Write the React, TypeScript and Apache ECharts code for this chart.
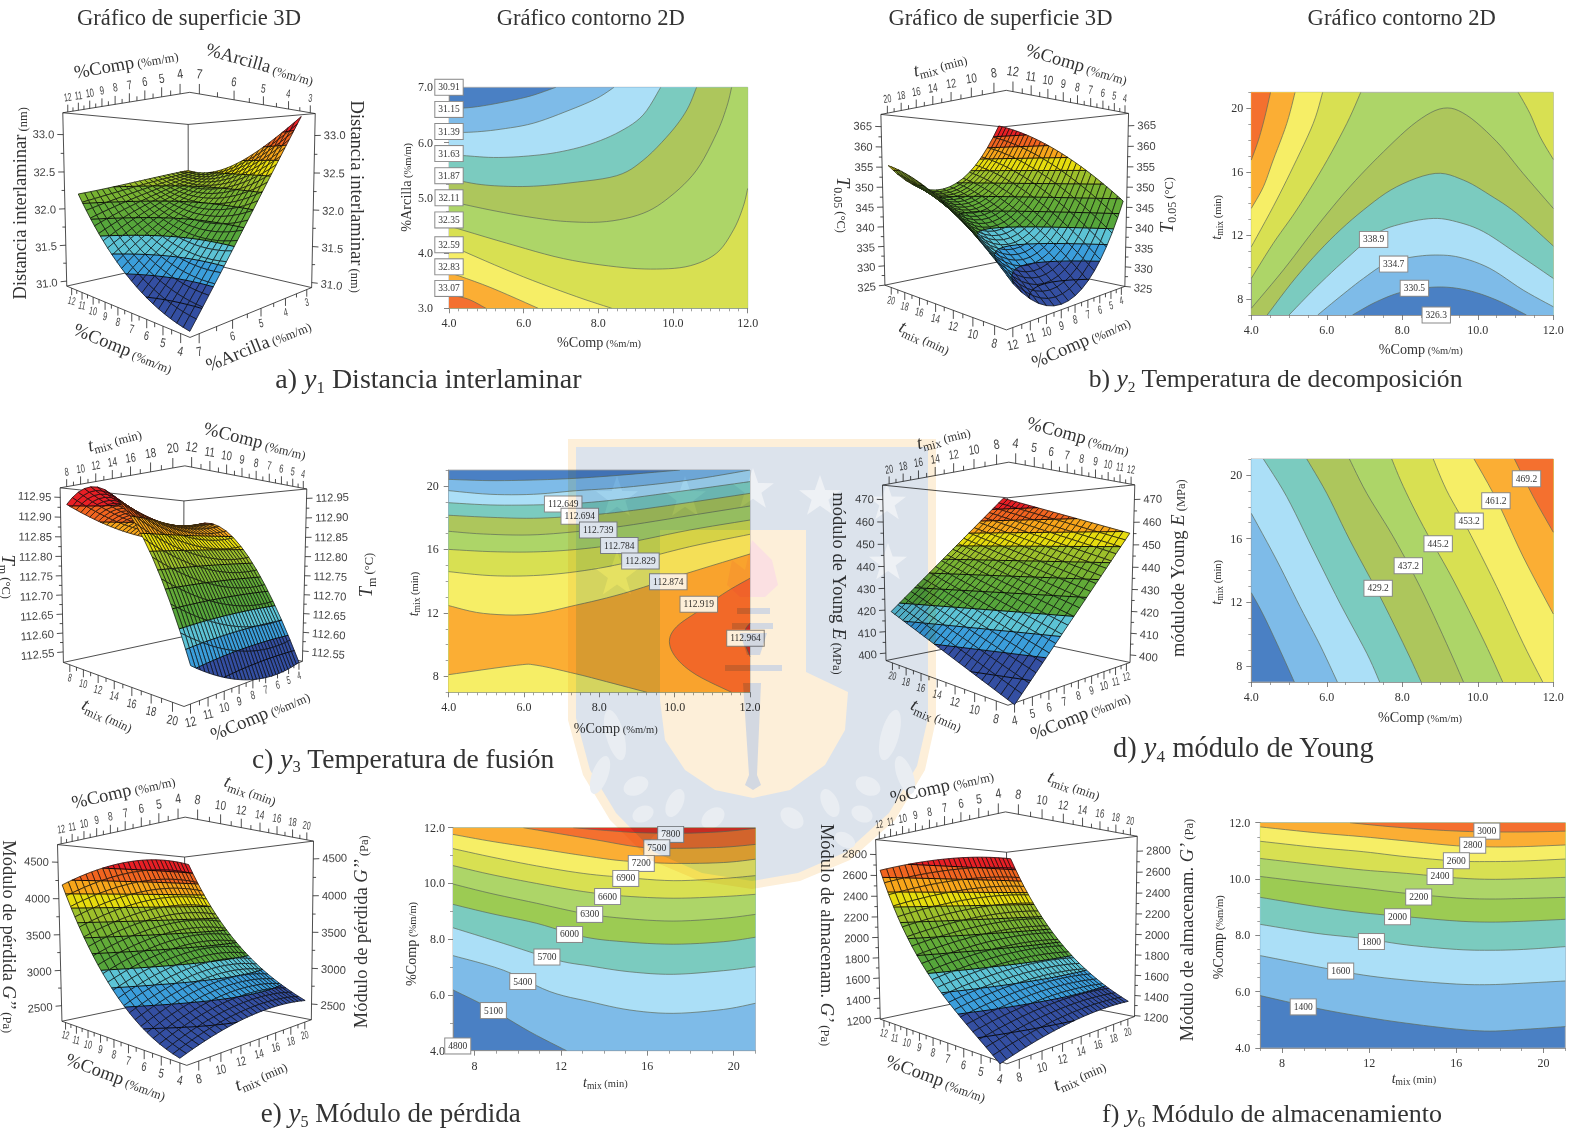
import React, { useEffect, useRef } from "react";
import * as echarts from "echarts";

const SERIF = '"Liberation Serif"';
const SANS = '"Liberation Sans"';

// ---------- contour plots: level curves in data units ----------
const paletteAD = ["#4a80c4", "#7ebbe8", "#abdff7", "#7bcbbf", "#adc65c", "#add568", "#d8e052", "#f6ee66", "#fbae34", "#f4702f", "#e63125"];
const paletteEF = ["#4a80c4", "#7ebbe8", "#abdff7", "#7bcbbf", "#9ccb53", "#add568", "#d8e052", "#f6ee66", "#fbae34", "#f4702f", "#e63125"];

const contourACurves = [
  [[4, 6.61], [4.65, 6.64], [5.37, 6.72], [6.17, 6.84], [6.86, 7]],
  [[4, 6.18], [4.65, 6.19], [5.37, 6.24], [6.26, 6.35], [7.24, 6.59], [7.96, 6.8], [8.42, 7]],
  [[4, 5.78], [4.47, 5.76], [5.19, 5.73], [5.99, 5.75], [6.88, 5.82], [7.78, 5.97], [8.58, 6.2], [9.2, 6.5], [9.67, 7]],
  [[4, 5.35], [4.74, 5.25], [5.46, 5.21], [6.26, 5.21], [7.24, 5.27], [8.49, 5.4], [9.2, 5.68], [9.92, 6.17], [10.37, 6.59], [10.63, 7]],
  [[4, 4.94], [5.1, 4.78], [6.17, 4.65], [7.15, 4.57], [8.22, 4.57], [9.2, 4.72], [9.92, 5.02], [10.63, 5.5], [11.17, 6.17], [11.44, 6.65], [11.57, 7]],
  [[4, 4.49], [5.54, 4.18], [7.06, 3.9], [8.49, 3.75], [9.56, 3.71], [10.46, 3.77], [11.17, 4], [11.62, 4.42], [11.88, 4.84], [12, 5.17]],
  [[4, 4.16], [4.56, 3.98], [5.99, 3.57], [7.42, 3.21], [8.36, 3]],
  [[4, 3.65], [5.1, 3.38], [6.39, 3]],
  [[4, 3.24], [4.5, 3.17], [4.99, 3]],
];
const contourABands = [1, 2, 3, 4, 5, 6, 7, 8, 9];
const contourALabels = [[4, 7, "30.91"], [4, 6.6, "31.15"], [4, 6.2, "31.39"], [4, 5.8, "31.63"], [4, 5.4, "31.87"], [4, 5, "32.11"], [4, 4.6, "32.35"], [4, 4.15, "32.59"], [4, 3.75, "32.83"], [4, 3.36, "33.07"]];

const contourBCurves = [
  [[6.9, 21], [6.53, 19.04], [5.91, 16.32], [5.2, 13.6], [4.58, 11.5], [4, 9.3]],
  [[5.89, 21], [5.64, 19.04], [5.11, 16.32], [4.58, 13.81], [4, 11.29]],
  [[5.16, 21], [4.94, 19.04], [4.58, 16.74], [4.32, 15.06], [4, 13.7]],
  [[4.51, 21], [4.36, 19.46], [4.19, 18], [4, 16.74]],
  [[12, 16.78], [11.65, 18.2], [11.38, 19.67], [11.07, 21]],
  [[4, 7.42], [4.85, 9.83], [5.73, 12.55], [6.61, 15.06], [7.5, 17.26], [8.38, 19.15], [9.09, 20], [9.7, 19.57], [10.5, 17.9], [11.2, 15.9], [12, 13.7]],
  [[4.42, 7], [5.2, 9.41], [6.08, 11.71], [6.97, 13.6], [7.85, 15.06], [8.87, 15.9], [9.62, 15.48], [10.32, 14.54], [11.03, 13.39], [12, 11.34]],
  [[5, 7], [5.73, 8.78], [6.53, 10.56], [7.32, 12.13], [8.03, 12.76], [8.82, 13.07], [9.44, 12.86], [10.15, 12.24], [11.03, 10.87], [12, 9.3]],
  [[5.76, 7], [6.35, 8.15], [6.97, 9.3], [7.58, 10.25], [8.2, 10.62], [8.87, 10.77], [9.53, 10.62], [10.32, 9.93], [11.2, 8.57], [12, 7.52]],
  [[6.68, 7], [7.32, 7.84], [8.03, 8.47], [8.91, 8.76], [9.7, 8.57], [10.5, 7.94], [11.29, 7]],
];
const contourBBands = [6, 7, 8, 9, 6, 4, 3, 2, 1, 0];
const contourBLabels = [[7.24, 11.75, "338.9"], [7.77, 10.2, "334.7"], [8.32, 8.68, "330.5"], [8.9, 7, "326.3"]];

const contourCCurves = [
  [[4, 20.41], [5.1, 20.33], [6.25, 20.37], [7.4, 20.48], [8.64, 20.69], [10.14, 21]],
  [[4, 19.7], [5.1, 19.47], [6.25, 19.47], [7.4, 19.7], [8.64, 19.9], [10.4, 20.37], [12, 21]],
  [[4, 18.94], [5.1, 18.8], [6.25, 18.8], [7.4, 18.9], [8.64, 19.18], [10.4, 19.74], [12, 20.27]],
  [[4, 18.15], [5.1, 18.02], [6.25, 17.96], [7.4, 18.1], [8.64, 18.38], [10.4, 18.96], [12, 19.53]],
  [[4, 17.14], [4.92, 16.97], [6.16, 16.91], [7.4, 17.12], [8.64, 17.47], [10.4, 18.13], [12, 18.73]],
  [[4, 16], [5.1, 15.86], [6.25, 15.84], [7.4, 16], [8.64, 16.38], [10.4, 17.22], [12, 17.85]],
  [[4, 14.6], [5.1, 14.35], [6.25, 14.35], [7.4, 14.6], [8.64, 15.12], [10.4, 16.17], [12, 16.95]],
  [[4, 12.46], [4.92, 11.97], [6.16, 11.91], [7.4, 12.5], [8.64, 13.23], [10.32, 14.49], [12, 15.71]],
  [[4, 8.11], [5.8, 8.7], [6.34, 8.7], [7.4, 8.15], [8.19, 7.67], [9.26, 7]],
  [[11.51, 7], [10.58, 8.09], [10.05, 9.14], [9.86, 10.19], [10.05, 11.13], [10.67, 12.18], [11.38, 13.34], [12, 14.18]],
  [[12, 9.25], [11.87, 10.09], [11.87, 10.9], [12, 11.35]],
];
const contourCBands = [1, 2, 3, 4, 5, 6, 7, 8, 7, 9, 10];
const contourCLabels = [[7.04, 18.86, "112.649"], [7.48, 18.08, "112.694"], [7.97, 17.22, "112.739"], [8.53, 16.24, "112.784"], [9.09, 15.27, "112.829"], [9.83, 13.97, "112.874"], [10.64, 12.54, "112.919"], [11.88, 10.4, "112.964"]];

const contourDCurves = [
  [[5.14, 7], [4.76, 9], [4.32, 11.21], [4, 12.61]],
  [[6.28, 7], [5.82, 9.32], [5.29, 11.73], [4.67, 14.66], [4, 17.59]],
  [[7.4, 7], [7.06, 8.8], [6.35, 11.94], [5.64, 15.29], [4.94, 18.63], [4.32, 21]],
  [[8.5, 7], [8.11, 9], [7.41, 12.36], [6.61, 15.91], [6, 18.84], [5.47, 21]],
  [[9.62, 7], [9.17, 9.43], [8.47, 12.98], [7.76, 16.12], [7.06, 18.84], [6.6, 21]],
  [[10.66, 7], [10.15, 9.64], [9.35, 13.4], [8.56, 16.75], [8.03, 19.26], [7.72, 21]],
  [[11.72, 7], [11.2, 9.43], [10.5, 12.98], [9.7, 16.75], [9.17, 19.05], [8.82, 21]],
  [[12, 11.27], [11.2, 14.87], [10.5, 18.43], [9.9, 21]],
  [[12, 16.4], [11.47, 18.63], [10.97, 21]],
];
const contourDBands = [1, 2, 3, 4, 5, 6, 7, 8, 9];
const contourDLabels = [[7.36, 12.88, "429.2"], [8.16, 14.3, "437.2"], [8.95, 15.68, "445.2"], [9.77, 17.1, "453.2"], [10.48, 18.38, "461.2"], [11.29, 19.76, "469.2"]];

const contourECurves = [
  [[12.26, 4], [10.56, 4.68], [8.71, 5.52], [7, 6.18]],
  [[21, 5.7], [19.52, 5.48], [17.2, 5.34], [15.19, 5.46], [13.34, 5.76], [11.49, 6.12], [9.33, 6.89], [7, 7.41]],
  [[21, 7.01], [19.52, 6.87], [17.2, 6.74], [15.19, 6.83], [13.34, 7.04], [11.8, 7.25], [9.33, 7.85], [7, 8.41]],
  [[21, 8.07], [19.52, 7.91], [17.2, 7.82], [14.89, 7.91], [13.03, 8.09], [10.87, 8.57], [8.71, 8.93], [7, 9.25]],
  [[21, 8.89], [19.52, 8.75], [17.2, 8.65], [14.89, 8.75], [13.03, 8.93], [10.87, 9.29], [8.71, 9.65], [7, 9.98]],
  [[21, 9.61], [19.52, 9.53], [17.2, 9.47], [14.89, 9.55], [13.03, 9.71], [10.87, 10], [8.71, 10.33], [7, 10.64]],
  [[21, 10.28], [19.52, 10.18], [17.2, 10.1], [14.89, 10.22], [13.03, 10.36], [10.87, 10.63], [8.71, 10.96], [7, 11.25]],
  [[21, 10.87], [19.52, 10.75], [17.2, 10.72], [14.89, 10.81], [13.03, 11], [10.87, 11.26], [8.71, 11.52], [7, 11.76]],
  [[21, 11.4], [19.52, 11.3], [17.35, 11.26], [15.66, 11.3], [13.65, 11.56], [11.8, 11.8], [10.26, 12]],
  [[21, 11.98], [19.52, 11.86], [17.66, 11.8], [15.66, 11.82], [14.11, 11.9], [12.57, 12]],
];
const contourEBands = [1, 2, 3, 4, 5, 6, 7, 8, 9, 10];
const contourELabels = [[17.08, 11.76, "7800"], [16.44, 11.28, "7500"], [15.72, 10.72, "7200"], [15, 10.18, "6900"], [14.16, 9.53, "6600"], [13.33, 8.89, "6300"], [12.4, 8.17, "6000"], [11.35, 7.36, "5700"], [10.23, 6.48, "5400"], [8.87, 5.44, "5100"], [7.22, 4.17, "4800"]];

const contourFTimes = [21, 19.07, 17.54, 16.01, 13.72, 11.73, 9.59, 7];
const contourFCurves = [
  [4.76, 4.66, 4.6, 4.67, 4.88, 5.11, 5.41, 5.86],
  [6.38, 6.3, 6.25, 6.27, 6.41, 6.59, 6.89, 7.28],
  [7.6, 7.5, 7.47, 7.5, 7.66, 7.89, 8.07, 8.39],
  [8.57, 8.5, 8.47, 8.51, 8.66, 8.8, 9.02, 9.35],
  [9.35, 9.31, 9.29, 9.33, 9.49, 9.67, 9.85, 10.09],
  [10.06, 10.01, 9.99, 10.04, 10.2, 10.32, 10.5, 10.73],
  [10.71, 10.64, 10.62, 10.64, 10.79, 10.97, 11.12, 11.34],
  [11.21, 11.15, 11.14, 11.18, 11.35, 11.5, 11.64, 11.85],
].map((ys) => ys.map((y, i) => [contourFTimes[i], y])).concat([
  [[21, 11.7], [19.07, 11.67], [16.93, 11.68], [15.09, 11.74], [12.95, 11.86], [11.12, 12]],
]);
const contourFBands = [1, 2, 3, 4, 5, 6, 7, 8, 9];
const contourFLabels = [[17.4, 11.7, "3000"], [16.75, 11.2, "2800"], [16, 10.65, "2600"], [15.25, 10.09, "2400"], [14.27, 9.36, "2200"], [13.3, 8.66, "2000"], [12.1, 7.78, "1800"], [10.69, 6.73, "1600"], [8.97, 5.46, "1400"]];

const compTicks2D = [4, 6, 8, 10, 12];
const arcTicks2D = [3, 4, 5, 6, 7];
const timeTicks2D = [8, 12, 16, 20];

// ---------- response surfaces: z read per grid node ----------
const surfAComp = [4, 6, 8, 10, 12];
const surfAArc = [7, 6, 5, 4, 3];
const surfAValues = [
  [30.91, 31.49, 32.07, 32.67, 33.25],
  [31.06, 31.52, 31.96, 32.4, 32.9],
  [31.27, 31.64, 31.97, 32.29, 32.63],
  [31.7, 31.92, 32.13, 32.28, 32.48],
  [32.2, 32.26, 32.36, 32.42, 32.5],
];
const surfBTime = [8, 11, 14, 17, 20];
const surfBComp = [12, 10, 8, 6, 4];
const surfBValues = [
  [335.8, 329.1, 329.5, 336, 349],
  [342.4, 336.5, 335.6, 342.1, 355],
  [347.8, 341.2, 340.9, 348.3, 360.3],
  [351.8, 345.3, 345.6, 351.9, 364.4],
  [354.9, 348.3, 349.5, 354.5, 367.5],
];
const surfCTime = [20, 17, 14, 11, 8];
const surfCComp = [12, 10, 8, 6, 4];
const surfCValues = [
  [112.665, 112.622, 112.593, 112.577, 112.585],
  [112.826, 112.787, 112.755, 112.745, 112.75],
  [112.926, 112.88, 112.848, 112.836, 112.842],
  [112.968, 112.92, 112.89, 112.895, 112.9],
  [112.95, 112.908, 112.878, 112.864, 112.87],
];
const surfDTime = [8, 11, 14, 17, 20];
const surfDComp = [4, 6, 8, 10, 12];
const surfDValues = [
  [398, 412.8, 427, 442, 457.5],
  [402.5, 417, 431.3, 446.3, 460.6],
  [407, 421.9, 435.5, 451, 465],
  [412.5, 426.3, 441, 455.6, 470],
  [417.7, 431.6, 446.3, 461.6, 474],
];
const surfEComp = [4, 6, 8, 10, 12];
const surfETime = [8, 11, 14, 17, 20];
const surfEValues = [
  [2368, 2495, 2565, 2550, 2560],
  [2582, 2742, 2832, 2877, 2847],
  [2959, 3109, 3236, 3270, 3221],
  [3509, 3670, 3767, 3857, 3819],
  [4283, 4418, 4605, 4650, 4608],
];
const surfFComp = [4, 6, 8, 10, 12];
const surfFTime = [8, 11, 14, 17, 20];
const surfFValues = [
  [1200, 1266, 1307, 1342, 1333],
  [1440, 1508, 1537, 1556, 1545],
  [1714, 1765, 1819, 1847, 1833],
  [2112, 2165, 2232, 2271, 2262],
  [2683, 2740, 2810, 2860, 2850],
];

const surfaceBands = ["#344fa2", "#344fa2", "#3b9edb", "#5cc3d5", "#56a63b", "#62ab38", "#78b332", "#9dc02b", "#e6dc0e", "#f7a51a", "#f1641f", "#e81f25"];

const compTicks3D = [4, 5, 6, 7, 8, 9, 10, 11, 12];
const compMinor3D = [4.5, 5.5, 6.5, 7.5, 8.5, 9.5, 10.5, 11.5];
const timeTicks3D = [8, 10, 12, 14, 16, 18, 20];
const timeMinor3D = [9, 11, 13, 15, 17, 19];
const arcTicks3D = [3, 4, 5, 6, 7];
const arcMinor3D = [3.5, 4.5, 5.5, 6.5];

const zTicksA = [31, 31.5, 32, 32.5, 33];
const zTicksB = [325, 330, 335, 340, 345, 350, 355, 360, 365];
const zTicksC = [112.55, 112.6, 112.65, 112.7, 112.75, 112.8, 112.85, 112.9, 112.95];
const zTicksD = [400, 410, 420, 430, 440, 450, 460, 470];
const zTicksE = [2500, 3000, 3500, 4000, 4500];
const zTicksF = [1200, 1400, 1600, 1800, 2000, 2200, 2400, 2600, 2800];

const COMP = "{a|%Comp}{b| (%m/m)}";
const ARC = "{a|%Arcilla}{b| (%m/m)}";
const TMIX = "{i|t}{s|mix}{b| (min)}";

const columnTitles = [
  ["Gráfico de superficie 3D", 189, 17],
  ["Gráfico contorno 2D", 590.8, 17],
  ["Gráfico de superficie 3D", 1000.5, 17],
  ["Gráfico contorno 2D", 1401.7, 17],
];
const captions = [
  ["{a|a) }{i|y}{s|1}{a| Distancia interlaminar}", 428.4, 378.7, 28],
  ["{a|b) }{i|y}{s|2}{a| Temperatura de decomposición}", 1275.7, 378.7, 25.6],
  ["{a|c) }{i|y}{s|3}{a| Temperatura de fusión}", 403.3, 758.4, 27.5],
  ["{a|d) }{i|y}{s|4}{a| módulo de Young}", 1243.6, 747, 28.4],
  ["{a|e) }{i|y}{s|5}{a| Módulo de pérdida}", 390.8, 1113, 27],
  ["{a|f) }{i|y}{s|6}{a| Módulo de almacenamiento}", 1272, 1113, 26],
];

// ---------- layouts ----------
const contourPanels: any[] = [
  { curves: contourACurves, bands: contourABands, labels: contourALabels, base: 0, palette: paletteAD, left: 449, right: 747.7, top: 87.3, bottom: 308.3, xr: [4, 12], yr: [3, 7], xt: compTicks2D, yt: arcTicks2D, xm: 0.25, ym: 0.25, xd: 1, yd: 1, ymargin: 16, xTitle: [COMP, 599, 342.3], yTitle: [ARC, 406, 187.3] },
  { curves: contourBCurves, bands: contourBBands, labels: contourBLabels, base: 5, palette: paletteAD, left: 1251.3, right: 1553.3, top: 92.3, bottom: 315, xr: [4, 12], yr: [7, 21], xt: compTicks2D, yt: timeTicks2D, xm: 0.5, ym: 1, xd: 1, yd: 0, ymargin: 8, xTitle: [COMP, 1420.7, 349.3], yTitle: [TMIX, 1215.7, 217.3] },
  { curves: contourCCurves, bands: contourCBands, labels: contourCLabels, base: 0, palette: paletteAD, left: 448.7, right: 750, top: 470, bottom: 692.3, xr: [4, 12], yr: [7, 21], xt: compTicks2D, yt: timeTicks2D, xm: 0.25, ym: 1, xd: 1, yd: 0, ymargin: 10, xTitle: [COMP, 615.7, 727.7], yTitle: [TMIX, 412.7, 594] },
  { curves: contourDCurves, bands: contourDBands, labels: contourDLabels, base: 0, palette: paletteAD, left: 1251.3, right: 1553.3, top: 459, bottom: 682, xr: [4, 12], yr: [7, 21], xt: compTicks2D, yt: timeTicks2D, xm: 0.5, ym: 1, xd: 1, yd: 0, ymargin: 9, xTitle: [COMP, 1420, 716.7], yTitle: [TMIX, 1215.7, 582.3] },
  { curves: contourECurves, bands: contourEBands, labels: contourELabels, base: 0, palette: paletteEF, left: 453, right: 755.3, top: 827.7, bottom: 1050.7, xr: [7, 21], yr: [4, 12], xt: timeTicks2D, yt: compTicks2D, xm: 1, ym: 1, xd: 0, yd: 1, ymargin: 8, xTitle: [TMIX, 605.3, 1081.7], yTitle: [COMP, 410.7, 944] },
  { curves: contourFCurves, bands: contourFBands, labels: contourFLabels, base: 0, palette: paletteEF, left: 1260.3, right: 1565.3, top: 822.7, bottom: 1048, xr: [7, 21], yr: [4, 12], xt: timeTicks2D, yt: compTicks2D, xm: 1, ym: 0.5, xd: 0, yd: 1, ymargin: 10, xTitle: [TMIX, 1414, 1077.7], yTitle: [COMP, 1217.7, 937.3] },
];

const Z_A_TITLE = "{a|Distancia interlaminar}{b| (nm)}";
const surfacePanels: any[] = [
  {
    corners: { n0: [190, 335], l0: [66.7, 288.3], r0: [311.7, 290], b0: [188.3, 256.7], n1: [190, 91.7], l1: [62.7, 112.7], r1: [315, 113.3], b1: [188.3, 125] },
    zr: [30.93, 33.29], uv: surfAComp, vv: surfAArc, values: surfAValues, mesh: [22, 22], deg: [3, 3], inset: 0.055, zt: zTicksA, zd: 1,
    ut: compTicks3D, um: compMinor3D, vt: arcTicks3D, vm: arcMinor3D,
    titles: [[COMP, 126, 63.3, 10], [ARC, 260, 64, -16], [COMP, 123.3, 348.3, -22], [ARC, 258.3, 345, 22], [Z_A_TITLE, 20, 203.3, 90], [Z_A_TITLE, 357.3, 196.7, -90]],
  },
  {
    corners: { n0: [1005.7, 330], l0: [885, 285.7], r0: [1125, 285.7], b0: [1003, 261], n1: [1005.7, 90], l1: [881.7, 114], r1: [1129.3, 114.3], b1: [1001.7, 126.7] },
    zr: [325, 368], uv: surfBTime, vv: surfBComp, values: surfBValues, mesh: [28, 16], deg: [2, 3], inset: 0.04, zt: zTicksB, zd: 0,
    ut: timeTicks3D, um: timeMinor3D, vt: compTicks3D, vm: compMinor3D,
    titles: [[TMIX, 940, 64.3, 14], [COMP, 1076.7, 64, -16], [TMIX, 925, 337.3, -26], [COMP, 1080.7, 341.7, 24], ["{i|T}{s|0.05}{b| (°C)}", 843.3, 205, -90], ["{i|T}{s|0.05}{b| (°C)}", 1166.7, 205, 90]],
  },
  {
    corners: { n0: [185, 706.7], l0: [62.7, 661.7], r0: [301.7, 661.7], b0: [184, 636.7], n1: [185, 466], l1: [60, 488.3], r1: [306.7, 488.3], b1: [184, 501] },
    zr: [112.522, 112.974], uv: surfCTime, vv: surfCComp, values: surfCValues, mesh: [16, 30], deg: [3, 2], inset: 0.04, zt: zTicksC, zd: 2,
    ut: timeTicks3D, um: timeMinor3D, vt: compTicks3D, vm: compMinor3D,
    titles: [[TMIX, 114.3, 439, 14.7], [COMP, 255, 440.7, -14], [TMIX, 107.7, 715, -26], [COMP, 260, 715, 23], ["{i|T}{s|m}{b| (°C)}", 8, 576.7, -90], ["{i|T}{s|m}{b| (°C)}", 366, 575, 90]],
  },
  {
    corners: { n0: [1008.3, 706], l0: [886, 660], r0: [1130, 661.7], b0: [1006.7, 637], n1: [1008.3, 462.3], l1: [882.7, 485], r1: [1135, 485], b1: [1007.3, 497.7] },
    zr: [396.5, 476.4], uv: surfDTime, vv: surfDComp, values: surfDValues, mesh: [24, 20], deg: [1, 1], inset: 0.04, zt: zTicksD, zd: 0,
    ut: timeTicks3D, um: timeMinor3D, vt: compTicks3D, vm: compMinor3D,
    titles: [[TMIX, 943.3, 436.7, 14], [COMP, 1078.3, 436, -15], [TMIX, 936.7, 715, -25], [COMP, 1080, 715, 22], ["{a|módulo de Young }{i|E}{b| (MPa)}", 839.3, 583.3, -90], ["{a|módulode Young }{i|E}{b| (MPa)}", 1178.3, 568.3, 90]],
  },
  {
    corners: { n0: [186.7, 1065], l0: [62.3, 1021.7], r0: [311.7, 1020], b0: [185, 995], n1: [185, 817.3], l1: [57.3, 844.3], r1: [313.3, 841], b1: [185, 857.3] },
    zr: [2278, 4740], uv: surfEComp, vv: surfETime, values: surfEValues, mesh: [22, 26], deg: [3, 2], inset: 0.04, zt: zTicksE, zd: 0,
    ut: compTicks3D, um: compMinor3D, vt: timeTicks3D, vm: timeMinor3D,
    titles: [[COMP, 123.3, 791, 13], [TMIX, 250.7, 790, -21], [COMP, 116, 1076.7, -20], [TMIX, 260.7, 1075, 23], ["{a|Módulo de pérdida }{i|G’’}{b| (Pa)}", 9.3, 936.7, -90], ["{a|Módulo de pérdida }{i|G’’}{b| (Pa)}", 361, 931.7, 90]],
  },
  {
    corners: { n0: [1006.7, 1063.3], l0: [880.7, 1020], r0: [1135, 1016.7], b0: [1006.7, 991.7], n1: [1005, 811.7], l1: [875.7, 839.3], r1: [1137.3, 836.7], b1: [1006.7, 852.3] },
    zr: [1190, 2942], uv: surfFComp, vv: surfFTime, values: surfFValues, mesh: [22, 26], deg: [3, 2], inset: 0.04, zt: zTicksF, zd: 0,
    ut: compTicks3D, um: compMinor3D, vt: timeTicks3D, vm: timeMinor3D,
    titles: [[COMP, 941.7, 786, 13], [TMIX, 1074.3, 785, -20], [COMP, 936, 1078.3, -20], [TMIX, 1079.3, 1075, 23], ["{a|Módulo de almacenam. }{i|G’}{b| (Pa)}", 827.3, 935, -90], ["{a|Módulo de almacenam. }{i|G’}{b| (Pa)}", 1186.7, 930, 90]],
  },
];

// ---------- helpers ----------
function richStyles(a: number, s: number, b: number) {
  const pad = Math.round((a - b) * 0.8);
  const padS = Math.round(a * 0.62);
  return {
    a: { fontFamily: SERIF, fontSize: a, fill: "#333", verticalAlign: "middle" },
    i: { fontFamily: SERIF, fontStyle: "italic", fontSize: a, fill: "#333", verticalAlign: "middle" },
    s: { fontFamily: SERIF, fontSize: s, fill: "#333", verticalAlign: "middle", padding: [padS, 0, 0, 0] },
    b: { fontFamily: SERIF, fontSize: b, fill: "#333", verticalAlign: "middle", padding: [pad, 0, 0, 0] },
  };
}

function spline(pts: number[][], n = 6) {
  const out: number[][] = [];
  for (let i = 0; i < pts.length - 1; i++) {
    const p0 = pts[Math.max(i - 1, 0)], p1 = pts[i], p2 = pts[i + 1], p3 = pts[Math.min(i + 2, pts.length - 1)];
    for (let k = 0; k < n; k++) {
      const t = k / n, t2 = t * t, t3 = t2 * t;
      out.push([0, 1].map((d) => 0.5 * (2 * p1[d] + (p2[d] - p0[d]) * t + (2 * p0[d] - 5 * p1[d] + 4 * p2[d] - p3[d]) * t2 + (3 * p1[d] - p0[d] - 3 * p2[d] + p3[d]) * t3)));
    }
  }
  out.push(pts[pts.length - 1]);
  return out;
}

function perimeterClosure(start: number[], end: number[], xr: number[], yr: number[]) {
  const eps = 1e-6;
  const tOf = ([x, y]: number[]) => {
    if (Math.abs(y - yr[1]) < eps) return (x - xr[0]) / (xr[1] - xr[0]);
    if (Math.abs(x - xr[1]) < eps) return 1 + (yr[1] - y) / (yr[1] - yr[0]);
    if (Math.abs(y - yr[0]) < eps) return 2 + (xr[1] - x) / (xr[1] - xr[0]);
    return 3 + (y - yr[0]) / (yr[1] - yr[0]);
  };
  const corners = [[xr[0], yr[1]], [xr[1], yr[1]], [xr[1], yr[0]], [xr[0], yr[0]]];
  const tEnd = tOf(end);
  let tStart = tOf(start);
  if (tStart <= tEnd) tStart += 4;
  const out: number[][] = [];
  for (let k = Math.ceil(tEnd + 1e-9); k < tStart - 1e-9; k++) out.push(corners[k % 4]);
  return out;
}

function solve(A: number[][], b: number[]) {
  const n = b.length;
  const M = A.map((r, i) => [...r, b[i]]);
  for (let c = 0; c < n; c++) {
    let p = c;
    for (let r = c + 1; r < n; r++) if (Math.abs(M[r][c]) > Math.abs(M[p][c])) p = r;
    [M[c], M[p]] = [M[p], M[c]];
    for (let r = 0; r < n; r++) {
      if (r === c) continue;
      const f = M[r][c] / M[c][c];
      for (let k = c; k <= n; k++) M[r][k] -= f * M[c][k];
    }
  }
  return M.map((r, i) => r[n] / r[i]);
}

function makeCamera(c: any) {
  const pts: [number[], number[]][] = [
    [[0, 0, 0], c.n0], [[1, 0, 0], c.l0], [[0, 1, 0], c.r0], [[1, 1, 0], c.b0],
    [[0, 0, 1], c.n1], [[1, 0, 1], c.l1], [[0, 1, 1], c.r1], [[1, 1, 1], c.b1],
  ];
  const cx = c.n0[0], cy = c.n0[1], sc = 100;
  const rows: number[][] = [];
  const rhs: number[] = [];
  for (const [[X, Y, Z], [px, py]] of pts) {
    const x = (px - cx) / sc, y = (py - cy) / sc;
    rows.push([X, Y, Z, 1, 0, 0, 0, 0, -x * X, -x * Y, -x * Z]); rhs.push(x);
    rows.push([0, 0, 0, 0, X, Y, Z, 1, -y * X, -y * Y, -y * Z]); rhs.push(y);
  }
  const AtA = Array.from({ length: 11 }, (_, i) => Array.from({ length: 11 }, (_, j) => rows.reduce((s, r) => s + r[i] * r[j], 0)));
  const Atb = Array.from({ length: 11 }, (_, i) => rows.reduce((s, r, k) => s + r[i] * rhs[k], 0));
  const p = solve(AtA, Atb);
  const project = (X: number, Y: number, Z: number) => {
    const w = p[8] * X + p[9] * Y + p[10] * Z + 1;
    return [cx + sc * (p[0] * X + p[1] * Y + p[2] * Z + p[3]) / w, cy + sc * (p[4] * X + p[5] * Y + p[6] * Z + p[7]) / w, w];
  };
  return project;
}

// least-squares polynomial weights: how much node i contributes at position t
function fitWeights(nodes: number[], deg: number) {
  const mid = (nodes[0] + nodes[nodes.length - 1]) / 2;
  const half = Math.abs(nodes[nodes.length - 1] - nodes[0]) / 2;
  const basis = (t: number) => Array.from({ length: deg + 1 }, (_, k) => Math.pow((t - mid) / half, k));
  const A = nodes.map(basis);
  const AtA = Array.from({ length: deg + 1 }, (_, a) => Array.from({ length: deg + 1 }, (_, b) => A.reduce((s, r) => s + r[a] * r[b], 0)));
  const G = nodes.map((_, i) => solve(AtA, A[i]));
  return (t: number) => {
    const phi = basis(t);
    return G.map((g) => g.reduce((s, v, k) => s + v * phi[k], 0));
  };
}

// the mixing-time axes run over 7–21 across the whole box; the composition axes sit slightly inside it
function axisSpan(nodes: number[], inset: number) {
  const first = nodes[0], last = nodes[nodes.length - 1];
  if (nodes.includes(14) && nodes.includes(17)) return { a: first < last ? 7 : 21, b: first < last ? 21 : 7, inset: 0 };
  return { a: first, b: last, inset };
}

function clipZ(poly: any[], level: number, above: boolean) {
  const out: any[] = [];
  for (let i = 0; i < poly.length; i++) {
    const a = poly[i], b = poly[(i + 1) % poly.length];
    const ina = above ? a.z >= level : a.z <= level;
    const inb = above ? b.z >= level : b.z <= level;
    if (ina) out.push(a);
    if (ina !== inb) {
      const t = (level - a.z) / (b.z - a.z);
      out.push({ x: a.x + t * (b.x - a.x), y: a.y + t * (b.y - a.y), z: level });
    }
  }
  return out;
}

function buildSurface(panel: any) {
  const project = makeCamera(panel.corners);
  const [Nu, Nv] = panel.mesh;
  const uv: number[] = panel.uv, vv: number[] = panel.vv;
  const su = axisSpan(uv, panel.inset), sv = axisSpan(vv, panel.inset);
  const wu = fitWeights(uv, panel.deg[0]), wv = fitWeights(vv, panel.deg[1]);
  const verts: any[][] = [];
  let zMin = Infinity, zMax = -Infinity;
  for (let i = 0; i <= Nu; i++) {
    verts.push([]);
    const uVal = su.a + ((su.b - su.a) * i) / Nu;
    const U = su.inset + ((1 - 2 * su.inset) * i) / Nu;
    const weightsU = wu(uVal);
    for (let j = 0; j <= Nv; j++) {
      const vVal = sv.a + ((sv.b - sv.a) * j) / Nv;
      const V = sv.inset + ((1 - 2 * sv.inset) * j) / Nv;
      const weightsV = wv(vVal);
      let z = 0;
      uv.forEach((_, a) => vv.forEach((_, b) => { z += weightsU[a] * weightsV[b] * panel.values[a][b]; }));
      zMin = Math.min(zMin, z); zMax = Math.max(zMax, z);
      const Z = (z - panel.zr[0]) / (panel.zr[1] - panel.zr[0]);
      const [x, y, w] = project(U, V, Z);
      verts[i].push({ x, y, z, w });
    }
  }
  const levels = surfaceBands.slice(1).map((_, i) => zMin + ((zMax - zMin) * (i + 1)) / surfaceBands.length);
  const cells: any[] = [];
  for (let i = 0; i < Nu; i++) for (let j = 0; j < Nv; j++) {
    const q = [verts[i][j], verts[i + 1][j], verts[i + 1][j + 1], verts[i][j + 1]];
    cells.push({ q, w: (q[0].w + q[1].w + q[2].w + q[3].w) / 4, x: (q[0].x + q[2].x) / 2, y: (q[0].y + q[2].y) / 2 });
  }
  cells.sort((a, b) => b.w - a.w);
  const renderCell = (cell: any, api: any) => {
    const children: any[] = [];
    const pt = (p: any) => api.coord([p.x, p.y]);
    const zs = cell.q.map((p: any) => p.z);
    const lo = Math.min(...zs), hi = Math.max(...zs);
    surfaceBands.forEach((color, b) => {
      const bl = b === 0 ? -Infinity : levels[b - 1];
      const bh = b === levels.length ? Infinity : levels[b];
      if (hi < bl || lo > bh) return;
      let poly = cell.q;
      if (bl > -Infinity) poly = clipZ(poly, bl, true);
      if (poly.length && bh < Infinity) poly = clipZ(poly, bh, false);
      if (poly.length < 3) return;
      children.push({ type: "polygon", shape: { points: poly.map(pt) }, style: { fill: color, stroke: color, lineWidth: 0.3 } });
    });
    children.push({ type: "polygon", shape: { points: cell.q.map(pt) }, style: { fill: "none", stroke: "#0a0a0a", lineWidth: 0.7 } });
    levels.forEach((lev) => {
      if (lev < lo || lev > hi) return;
      const cross: any[] = [];
      for (let k = 0; k < 4; k++) {
        const a = cell.q[k], c = cell.q[(k + 1) % 4];
        if ((a.z - lev) * (c.z - lev) < 0) {
          const t = (lev - a.z) / (c.z - a.z);
          cross.push({ x: a.x + t * (c.x - a.x), y: a.y + t * (c.y - a.y) });
        }
      }
      for (let k = 0; k + 1 < cross.length; k += 2) {
        const p1 = pt(cross[k]), p2 = pt(cross[k + 1]);
        children.push({ type: "line", shape: { x1: p1[0], y1: p1[1], x2: p2[0], y2: p2[1] }, style: { stroke: "#000", lineWidth: 0.9 } });
      }
    });
    return { type: "group", children };
  };
  return { project, cells, renderCell };
}

function buildFrame(panel: any, project: any) {
  const wNear = project(0, 0, 0.5)[2];
  const cubeOf = (nodes: number[]) => {
    const s = axisSpan(nodes, panel.inset);
    return (val: number) => s.inset + (1 - 2 * s.inset) * (val - s.a) / (s.b - s.a);
  };
  const uMap = cubeOf(panel.uv);
  const vMap = cubeOf(panel.vv);
  const zMap = (val: number) => (val - panel.zr[0]) / (panel.zr[1] - panel.zr[0]);
  const lines: number[][] = [];
  const texts: any[] = [];
  const C = [[0, 0], [1, 0], [0, 1], [1, 1]];
  const p = (i: number, Z: number) => project(C[i][0], C[i][1], Z);
  [[0, 1], [0, 2], [1, 3], [2, 3]].forEach(([a, b]) => {
    [0, 1].forEach((Z) => {
      const A = p(a, Z), B = p(b, Z);
      lines.push([A[0], A[1], B[0], B[1]]);
    });
  });
  [1, 2, 3].forEach((i) => {
    const A = p(i, 0), B = p(i, 1);
    lines.push([A[0], A[1], B[0], B[1]]);
  });

  const edgeTicks = (values: number[], minor: number[], at: (v: number, Z: number) => number[], Z: number, rot: number) => {
    const sign = Z === 1 ? -1 : 1;
    const mk = (v: number, major: boolean) => {
      const P = at(v, Z);
      const s = wNear / P[2];
      lines.push([P[0], P[1], P[0], P[1] + sign * (major ? 10 : 5) * s]);
      if (major) {
        const sx = Math.max(0.6, Math.min(0.85, 0.6 + 0.71 * (s - 0.72)));
        texts.push({
          type: "text", x: P[0], y: P[1] + sign * (Z === 1 ? 20 : 18) * s, rotation: (rot * Math.PI) / 180, scaleX: sx, z: 50, silent: true,
          style: { text: String(v), fontFamily: SANS, fontSize: 13.5 * (0.4 + 0.6 * s), fill: "#444", align: "center", verticalAlign: "middle" },
        });
      }
    };
    values.forEach((v) => mk(v, true));
    minor.forEach((v) => mk(v, false));
  };
  [1, 0].forEach((Z) => {
    edgeTicks(panel.ut, panel.um, (v, zz) => project(uMap(v), 0, zz), Z, Z === 1 ? 8 : -12);
    edgeTicks(panel.vt, panel.vm, (v, zz) => project(0, vMap(v), zz), Z, Z === 1 ? -8 : 12);
  });

  const angle = (a: any, b: any) => (Math.atan2(-(b[1] - a[1]), b[0] - a[0]) * 180) / Math.PI;
  const zMinor: number[] = panel.zt.slice(0, -1).map((v: number, i: number) => (v + panel.zt[i + 1]) / 2);
  const sideTicks = (corner: number, dir: number) => {
    const top = dir < 0 ? angle(p(1, 1), p(3, 1)) : angle(p(3, 1), p(2, 1));
    const bot = dir < 0 ? angle(p(1, 0), p(3, 0)) : angle(p(3, 0), p(2, 0));
    panel.zt.forEach((v: number) => {
      const Z = zMap(v);
      const P = p(corner, Z);
      const rot = 0.5 * (bot + (top - bot) * Z);
      const slope = Math.tan((rot * Math.PI) / 180);
      lines.push([P[0], P[1], P[0] + dir * 6, P[1] - dir * 6 * slope]);
      texts.push({
        type: "text", x: P[0] + dir * 9, y: P[1] - dir * 9 * slope, rotation: (rot * Math.PI) / 180, z: 50, silent: true,
        style: { text: v.toFixed(panel.zd), fontFamily: SANS, fontSize: 11.2, fill: "#444", align: dir < 0 ? "right" : "left", verticalAlign: "middle" },
      });
    });
    zMinor.forEach((v) => {
      const P = p(corner, zMap(v));
      lines.push([P[0], P[1], P[0] + dir * 3, P[1]]);
    });
  };
  sideTicks(1, -1);
  sideTicks(2, 1);

  panel.titles.forEach(([text, x, y, rot]: any[]) => {
    texts.push({
      type: "text", x, y, rotation: (rot * Math.PI) / 180, z: 50, silent: true,
      style: { text, rich: richStyles(18.5, 12, 12.5), align: "center", verticalAlign: "middle", fontFamily: SERIF, fontSize: 18 },
    });
  });
  return { lines, texts };
}

function star(cx: number, cy: number, r: number) {
  const pts: number[][] = [];
  for (let i = 0; i < 10; i++) {
    const a = -Math.PI / 2 + (i * Math.PI) / 5;
    const rr = i % 2 ? r * 0.4 : r;
    pts.push([cx + rr * Math.cos(a), cy + rr * Math.sin(a)]);
  }
  return { type: "polygon", shape: { points: pts }, style: { fill: "#eef1f5" } };
}

function watermarkOption() {
  const poly = (points: number[][], fill: string) => ({ type: "polygon", shape: { points }, style: { fill } });
  const leaf = (x: number, y: number, rx: number, ry: number, rot: number) => ({
    type: "ellipse", x, y, rotation: (rot * Math.PI) / 180, shape: { cx: 0, cy: 0, rx, ry }, style: { fill: "#e9edf2" },
  });
  const elements: any[] = [
    poly([[568, 439], [936, 439], [936, 720], [925, 770], [895, 820], [850, 860], [800, 881], [752, 889], [700, 881], [650, 860], [610, 820], [583, 775], [568, 720]], "#fdefd9"),
    poly([[576, 447], [928, 447], [928, 718], [917, 766], [889, 813], [846, 852], [798, 873], [752, 881], [702, 873], [654, 852], [616, 813], [590, 770], [576, 718]], "#dce3ec"),
    poly([[660, 530], [806, 530], [806, 672], [848, 692], [845, 730], [825, 765], [790, 790], [753, 798], [715, 790], [685, 770], [665, 740], [660, 700]], "#fdefd9"),
    star(617, 498, 22), star(685, 498, 22), star(753, 490, 22), star(820, 497, 22), star(887, 503, 20), star(617, 575, 24), star(888, 563, 20),
    leaf(615, 735, 9, 26, 15), leaf(636, 786, 13, 9, 25), leaf(675, 803, 8, 15, -25), leaf(713, 818, 9, 13, -50), leaf(643, 814, 11, 8, 25), leaf(660, 840, 11, 7, 30), leaf(600, 775, 8, 20, -20),
    leaf(890, 735, 9, 26, -15), leaf(868, 786, 13, 9, -25), leaf(830, 803, 8, 15, 25), leaf(792, 818, 9, 13, 50), leaf(862, 814, 11, 8, -25), leaf(845, 840, 11, 7, -30), leaf(905, 775, 8, 20, 20),
    poly([[752, 540], [772, 560], [778, 585], [765, 597], [740, 597], [727, 585], [732, 560], [745, 570]], "#fbe0e2"),
    poly([[737, 608], [770, 608], [770, 614], [737, 614]], "#d3d8e1"),
    poly([[732, 623], [773, 623], [773, 629], [732, 629]], "#d3d8e1"),
    poly([[740, 633], [767, 633], [760, 655], [747, 655]], "#d3d8e1"),
    poly([[725, 665], [782, 665], [782, 671], [725, 671]], "#d3d8e1"),
    poly([[743, 683], [761, 683], [757, 775], [761, 785], [753, 790], [745, 785], [749, 775]], "#d3d8e1"),
  ];
  return { animation: false, graphic: { elements } };
}

function buildOption() {
  const grids: any[] = [];
  const xAxes: any[] = [];
  const yAxes: any[] = [];
  const series: any[] = [];
  const graphics: any[] = [];

  columnTitles.forEach(([text, x, y]: any[]) => {
    graphics.push({ type: "text", x, y, z: 50, silent: true, style: { text, fontFamily: SERIF, fontSize: 22.6, fill: "#333", align: "center", verticalAlign: "middle" } });
  });
  captions.forEach(([text, x, y, size]: any[]) => {
    graphics.push({ type: "text", x, y, z: 50, silent: true, style: { text, rich: richStyles(size, size * 0.6, size), align: "center", verticalAlign: "middle", fontFamily: SERIF, fontSize: size } });
  });

  const rangeTicks = (r: number[], step: number, major: number[]) => {
    const out: number[] = [];
    for (let i = 0; r[0] + i * step <= r[1] + 1e-9; i++) {
      const v = r[0] + i * step;
      if (!major.some((m) => Math.abs(m - v) < 1e-9)) out.push(v);
    }
    return out;
  };

  contourPanels.forEach((c, k) => {
    grids.push({ left: c.left, top: c.top, width: c.right - c.left, height: c.bottom - c.top, show: true, backgroundColor: c.palette[c.base], borderColor: "#a8a8a8", borderWidth: 0.8, containLabel: false });
    const lab = (d: number, m: number) => ({ show: true, customValues: null as any, fontFamily: SERIF, fontSize: 12, color: "#333", margin: m, formatter: (v: number) => Number(v).toFixed(d), hideOverlap: false, showMinLabel: true, showMaxLabel: true });
    const xMajor = { gridIndex: k, type: "value", position: "bottom", min: c.xr[0], max: c.xr[1], axisLine: { show: true, lineStyle: { color: "#888", width: 0.8 } }, axisTick: { show: true, length: 5, customValues: c.xt, lineStyle: { color: "#666", width: 0.8 } }, axisLabel: { ...lab(c.xd, 9), customValues: c.xt }, splitLine: { show: false } };
    const xMinor = { gridIndex: k, type: "value", position: "bottom", min: c.xr[0], max: c.xr[1], axisLine: { show: false }, axisTick: { show: true, length: 3, customValues: rangeTicks(c.xr, c.xm, c.xt), lineStyle: { color: "#777", width: 0.7 } }, axisLabel: { show: false }, splitLine: { show: false } };
    const yMajor = { gridIndex: k, type: "value", position: "left", min: c.yr[0], max: c.yr[1], axisLine: { show: true, lineStyle: { color: "#888", width: 0.8 } }, axisTick: { show: true, length: 5, customValues: c.yt, lineStyle: { color: "#666", width: 0.8 } }, axisLabel: { ...lab(c.yd, c.ymargin), customValues: c.yt }, splitLine: { show: false } };
    const yMinor = { gridIndex: k, type: "value", position: "left", min: c.yr[0], max: c.yr[1], axisLine: { show: false }, axisTick: { show: true, length: 3, customValues: rangeTicks(c.yr, c.ym, c.yt), lineStyle: { color: "#777", width: 0.7 } }, axisLabel: { show: false }, splitLine: { show: false } };
    xAxes.push(xMajor, xMinor);
    yAxes.push(yMajor, yMinor);
    const [xa, ya] = [2 * k, 2 * k];
    series.push({
      type: "custom", xAxisIndex: xa, yAxisIndex: ya, clip: true, silent: true, z: 2,
      data: c.curves.map((cv: number[][], i: number) => [cv[0][0], cv[0][1], i]),
      encode: { x: 0, y: 1 },
      renderItem: (_: any, api: any) => {
        const i = api.value(2);
        const cv: number[][] = c.curves[i];
        const pts = spline(cv);
        const closure = perimeterClosure(cv[0], cv[cv.length - 1], c.xr, c.yr);
        const ring = [...pts, ...closure].map((p) => api.coord(p));
        return {
          type: "group",
          children: [
            { type: "polygon", shape: { points: ring }, style: { fill: c.palette[c.bands[i]] } },
            { type: "polyline", shape: { points: pts.map((p) => api.coord(p)) }, style: { fill: "none", stroke: "#5f6a5a", lineWidth: 0.7 } },
          ],
        };
      },
    });
    series.push({
      type: "scatter", xAxisIndex: xa, yAxisIndex: ya, clip: false, silent: true, z: 6, symbolSize: 1, itemStyle: { color: "transparent" },
      data: c.labels.map((l: any[]) => [l[0], l[1], l[2]]),
      label: {
        show: true, position: "inside", formatter: (p: any) => p.value[2], fontFamily: SERIF, fontSize: 9.5, lineHeight: 11, color: "#333",
        backgroundColor: "#fff", borderColor: "#8a8a8a", borderWidth: 1, padding: [2, 3, 2, 3], opacity: 1,
      },
      labelLayout: { hideOverlap: false },
    });
    [c.xTitle, c.yTitle].forEach(([text, x, y]: any[], idx: number) => {
      graphics.push({ type: "text", x, y, rotation: idx ? Math.PI / 2 : 0, z: 50, silent: true, style: { text, rich: richStyles(14.2, 9.5, 10.5), align: "center", verticalAlign: "middle", fontFamily: SERIF, fontSize: 14 } });
    });
  });

  // full-page axes that carry the projected 3D panels
  const pageIndex = xAxes.length;
  grids.push({ left: 0, top: 0, width: 1575, height: 1130 });
  xAxes.push({ gridIndex: 6, type: "value", min: 0, max: 1575, show: false });
  yAxes.push({ gridIndex: 6, type: "value", min: 0, max: 1130, inverse: true, show: false });

  surfacePanels.forEach((panel) => {
    const s = buildSurface(panel);
    const frame = buildFrame(panel, s.project);
    graphics.push(...frame.texts);
    series.push({
      type: "custom", xAxisIndex: pageIndex, yAxisIndex: pageIndex, clip: false, silent: true, z: 1,
      data: [[0, 0]], encode: { x: 0, y: 1 },
      renderItem: (_: any, api: any) => ({
        type: "group",
        children: frame.lines.map(([x1, y1, x2, y2]) => {
          const a = api.coord([x1, y1]), b = api.coord([x2, y2]);
          return { type: "line", shape: { x1: a[0], y1: a[1], x2: b[0], y2: b[1] }, style: { stroke: "#222", lineWidth: 0.8 } };
        }),
      }),
    });
    series.push({
      type: "custom", xAxisIndex: pageIndex, yAxisIndex: pageIndex, clip: false, silent: true, z: 3, progressive: 0,
      data: s.cells.map((cell: any, i: number) => [cell.x, cell.y, i]), encode: { x: 0, y: 1 },
      renderItem: (_: any, api: any) => s.renderCell(s.cells[api.value(2)], api),
    });
  });

  return { animation: false, grid: grids, xAxis: xAxes, yAxis: yAxes, series, graphic: { elements: graphics } };
}

export default function App() {
  const ref = useRef<HTMLDivElement>(null);
  const markRef = useRef<HTMLDivElement>(null);
  useEffect(() => {
    const chart = echarts.init(ref.current!, undefined, { renderer: "svg" });
    chart.setOption(buildOption());
    const mark = echarts.init(markRef.current!, undefined, { renderer: "svg" });
    mark.setOption(watermarkOption());
    return () => {
      chart.dispose();
      mark.dispose();
    };
  }, []);
  return (
    <div style={{ position: "absolute", left: 0, top: 0, width: 1575, height: 1130, overflow: "hidden", background: "#fff" }}>
      <div ref={ref} style={{ position: "absolute", left: 0, top: 0, width: 1575, height: 1130 }} />
      <div ref={markRef} style={{ position: "absolute", left: 0, top: 0, width: 1575, height: 1130, mixBlendMode: "multiply", pointerEvents: "none" }} />
    </div>
  );
}
